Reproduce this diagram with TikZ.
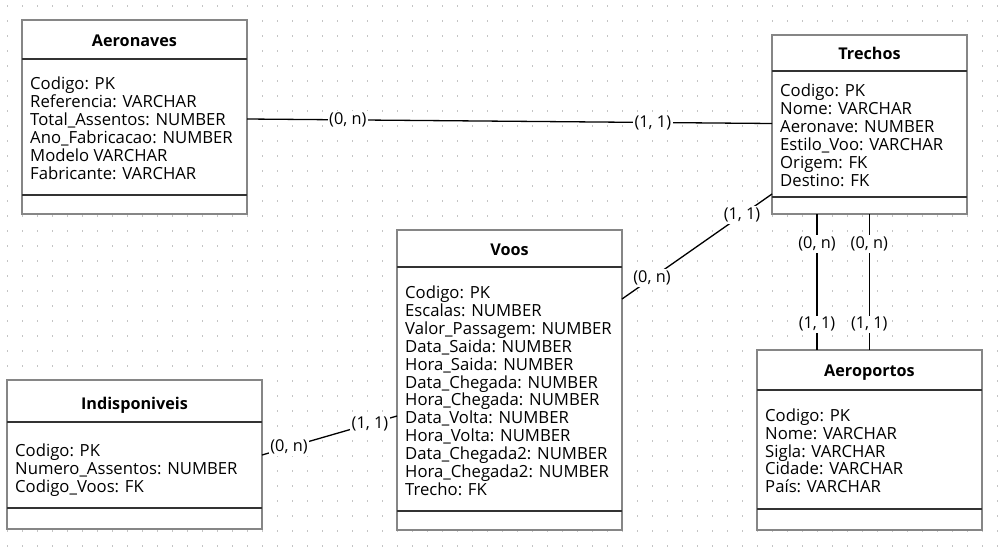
\documentclass[tikz,border=0pt]{standalone}
\usepackage{fontspec}
\setmainfont{Open Sans}
\definecolor{boxgray}{HTML}{868686}
\definecolor{linedark}{HTML}{333333}
\definecolor{dotgray}{HTML}{C4C4C4}
\tikzset{
  tbl/.style={draw=boxgray, line width=1.6pt, fill=white, rectangle, inner sep=0pt, outer sep=0pt, anchor=north west},
  sepline/.style={draw=linedark, line width=1.1pt},
  ttl/.style={font=\fontsize{16.2}{18}\selectfont\bfseries, anchor=base, inner sep=0pt},
  fld/.style={font=\fontsize{16.7}{17.9}\selectfont, align=left, anchor=north west, inner sep=0pt},
  rel/.style={draw=black, line width=1.3pt},
  card/.style={font=\fontsize{16.3}{18}\selectfont, fill=white, inner sep=1.5pt},
}
\newcommand{\fs}{\rule{0pt}{14pt}}
\begin{document}
\begin{tikzpicture}[x=1pt,y=-1pt]
\useasboundingbox (0,0) rectangle (1006,554);
\fill[white] (0,0) rectangle (1006,554);
\foreach \i in {0,...,66}{\foreach \j in {0,...,36}{\fill[dotgray] ({7.5+15*\i-0.75},{6+15*\j-0.75}) rectangle ++(1.5,1.5);}}

% tables
\node[tbl, minimum width=225pt, minimum height=194pt] (aeronaves) at (22,20) {};
\draw[sepline] ([yshift=-39pt]aeronaves.north west) -- ([yshift=-39pt]aeronaves.north east);
\draw[sepline] ([yshift=-175pt]aeronaves.north west) -- ([yshift=-175pt]aeronaves.north east);
\node[ttl] (aeronavesT) at (134.5,46.7) {Aeronaves};
\node[fld] (aeronavesF) at (30,75.3) {\fs Codigo: PK\\Referencia: VARCHAR\\Total\_Assentos: NUMBER\\Ano\_Fabricacao: NUMBER\\Modelo VARCHAR\\Fabricante: VARCHAR};

\node[tbl, minimum width=195pt, minimum height=179pt] (trechos) at (772,35) {};
\draw[sepline] ([yshift=-36pt]trechos.north west) -- ([yshift=-36pt]trechos.north east);
\draw[sepline] ([yshift=-162pt]trechos.north west) -- ([yshift=-162pt]trechos.north east);
\node[ttl] (trechosT) at (869.5,59.3) {Trechos};
\node[fld] (trechosF) at (780,82.7) {\fs Codigo: PK\\Nome: VARCHAR\\Aeronave: NUMBER\\Estilo\_Voo: VARCHAR\\Origem: FK\\Destino: FK};

\node[tbl, minimum width=225pt, minimum height=300pt] (voos) at (397,230) {};
\draw[sepline] ([yshift=-37pt]voos.north west) -- ([yshift=-37pt]voos.north east);
\draw[sepline] ([yshift=-281pt]voos.north west) -- ([yshift=-281pt]voos.north east);
\node[ttl] (voosT) at (509.5,255.7) {Voos};
\node[fld] (voosF) at (405,284.3) {\fs Codigo: PK\\Escalas: NUMBER\\Valor\_Passagem: NUMBER\\Data\_Saida: NUMBER\\Hora\_Saida: NUMBER\\Data\_Chegada: NUMBER\\Hora\_Chegada: NUMBER\\Data\_Volta: NUMBER\\Hora\_Volta: NUMBER\\Data\_Chegada2: NUMBER\\Hora\_Chegada2: NUMBER\\Trecho: FK};

\node[tbl, minimum width=255pt, minimum height=149pt] (indisp) at (7,380) {};
\draw[sepline] ([yshift=-42pt]indisp.north west) -- ([yshift=-42pt]indisp.north east);
\draw[sepline] ([yshift=-128pt]indisp.north west) -- ([yshift=-128pt]indisp.north east);
\node[ttl] (indispT) at (134.5,409) {Indisponiveis};
\node[fld] (indispF) at (15,442.7) {\fs Codigo: PK\\Numero\_Assentos: NUMBER\\Codigo\_Voos: FK};

\node[tbl, minimum width=225pt, minimum height=180pt] (aeroportos) at (757,350) {};
\draw[sepline] ([yshift=-40pt]aeroportos.north west) -- ([yshift=-40pt]aeroportos.north east);
\draw[sepline] ([yshift=-159pt]aeroportos.north west) -- ([yshift=-159pt]aeroportos.north east);
\node[ttl] (aeroportosT) at (869.5,376.7) {Aeroportos};
\node[fld] (aeroportosF) at (765,407) {\fs Codigo: PK\\Nome: VARCHAR\\Sigla: VARCHAR\\Cidade: VARCHAR\\País: VARCHAR};

% connector end points
\coordinate (aeR) at ([yshift=-99pt]aeronaves.north east);
\coordinate (trL) at ([yshift=-88.5pt]trechos.north west);
\coordinate (trLB) at ([yshift=-159pt]trechos.north west);
\coordinate (voR) at ([yshift=-69pt]voos.north east);
\coordinate (trB1) at ([xshift=45pt]trechos.south west);
\coordinate (trB2) at ([xshift=97.3pt]trechos.south west);
\coordinate (apT1) at ([xshift=60pt]aeroportos.north west);
\coordinate (apT2) at ([xshift=112.3pt]aeroportos.north west);
\coordinate (inR) at ([yshift=-75pt]indisp.north east);
\coordinate (voL) at ([yshift=-186pt]voos.north west);

% connectors
\draw[rel] (aeR) -- node[card, pos=0.192] (c1) {(0, n)} node[card, pos=0.773] (c2) {(1, 1)} (trL);
\draw[rel] (trLB) -- node[card, pos=0.2] (c3) {(1, 1)} node[card, pos=0.8] (c4) {(0, n)} (voR);
\draw[rel] (trB1) -- node[card, pos=0.22] (c5) {(0, n)} node[card, pos=0.81] (c6) {(1, 1)} (apT1);
\draw[rel] (trB2) -- node[card, pos=0.22] (c7) {(0, n)} node[card, pos=0.81] (c8) {(1, 1)} (apT2);
\draw[rel] (inR) -- node[card, pos=0.2] (c9) {(0, n)} node[card, pos=0.8] (c10) {(1, 1)} (voL);
\end{tikzpicture}
\end{document}
